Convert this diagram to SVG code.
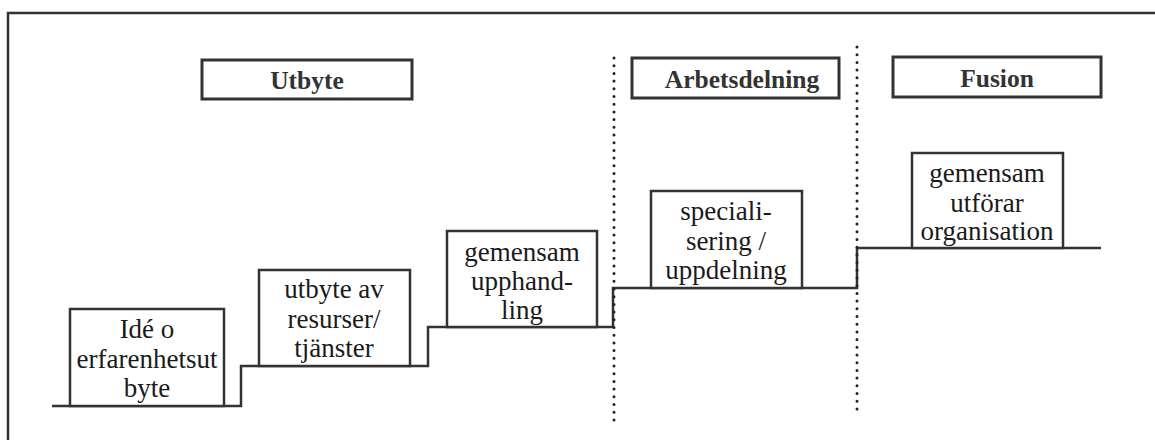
<svg xmlns="http://www.w3.org/2000/svg" width="1155" height="440" viewBox="0 0 1155 440">
<style>
.box{fill:#fff;stroke:#333;stroke-width:2.5}
.hbox{fill:#fff;stroke:#333;stroke-width:3}
.line{fill:none;stroke:#333;stroke-width:2.5}
.dot{fill:none;stroke:#222;stroke-width:3;stroke-linecap:round;stroke-dasharray:0 7.7}
.t{font-family:"Liberation Serif","Times New Roman",serif;font-size:27px;fill:#1a1a1a;text-anchor:middle}
.h{font-family:"Liberation Serif","Times New Roman",serif;font-size:25.5px;font-weight:bold;fill:#333;text-anchor:middle}
</style>
<rect width="1155" height="440" fill="#fff"/>
<path class="line" d="M8,440 V13 H1155"/>
<g id="connectors">
<path class="line" d="M52,406 H241 V366 H428 V327 H613 V288 H857 V248 H1101"/>
<path class="dot" d="M614,58 V420"/>
<path class="dot" d="M857,47 V416"/>
</g>
<g id="h-utbyte"><rect class="hbox" x="202" y="60" width="210" height="39"/><text class="h" x="307" y="89">Utbyte</text></g>
<g id="h-arbetsdelning"><rect class="hbox" x="632" y="58" width="207" height="40"/><text class="h" x="742" y="88">Arbetsdelning</text></g>
<g id="h-fusion"><rect class="hbox" x="893" y="57" width="208" height="40"/><text class="h" x="997" y="87">Fusion</text></g>
<g id="n1"><rect class="box" x="70" y="309" width="154" height="97"/><text class="t" x="147" y="338">Idé o</text><text class="t" x="147" y="368">erfarenhetsut</text><text class="t" x="147" y="397">byte</text></g>
<g id="n2"><rect class="box" x="259" y="270" width="151" height="96"/><text class="t" x="334" y="298">utbyte av</text><text class="t" x="334" y="328">resurser/</text><text class="t" x="334" y="357">tjänster</text></g>
<g id="n3"><rect class="box" x="447" y="231" width="150" height="96"/><text class="t" x="522" y="261">gemensam</text><text class="t" x="522" y="290">upphand-</text><text class="t" x="522" y="319">ling</text></g>
<g id="n4"><rect class="box" x="651" y="191" width="151" height="97"/><text class="t" x="726" y="220">speciali-</text><text class="t" x="726" y="250">sering /</text><text class="t" x="726" y="279">uppdelning</text></g>
<g id="n5"><rect class="box" x="912" y="153" width="151" height="95"/><text class="t" x="987" y="182">gemensam</text><text class="t" x="987" y="212">utförar</text><text class="t" x="987" y="240">organisation</text></g>
</svg>
